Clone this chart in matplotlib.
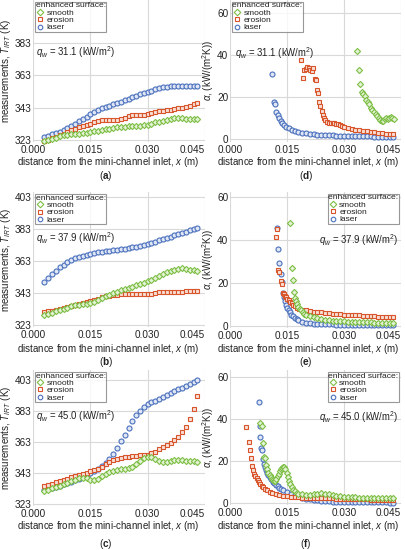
import matplotlib
matplotlib.use('Agg')
import matplotlib.pyplot as plt
from matplotlib.lines import Line2D

plt.rcParams['font.family'] = ['Liberation Sans', 'DejaVu Sans']
plt.rcParams['mathtext.fontset'] = 'custom'
plt.rcParams['mathtext.rm'] = 'Liberation Sans'
plt.rcParams['mathtext.it'] = 'Liberation Sans:italic'
plt.rcParams['mathtext.bf'] = 'Liberation Sans:bold'

# ---------------- data ----------------
SURFACES = ['smooth', 'erosion', 'laser']
X_TICKS = [0.000, 0.015, 0.030, 0.045]
X_TICK_LABELS = ['0.000', '0.015', '0.030', '0.045']
T_TICKS_A = [323, 343, 363, 383]
T_TICKS = [323, 343, 363, 383, 403]
A_TICKS = [0, 20, 40, 60]
Q_W = ['31.1', '37.9', '45.0']

X_T = [0.003, 0.004, 0.005, 0.006, 0.007, 0.008, 0.009, 0.010, 0.011, 0.012,
       0.013, 0.014, 0.015, 0.016, 0.017, 0.018, 0.019, 0.020, 0.021, 0.022,
       0.023, 0.024, 0.025, 0.026, 0.027, 0.028, 0.029, 0.030, 0.031, 0.032,
       0.033, 0.034, 0.035, 0.036, 0.037, 0.038, 0.039, 0.040, 0.041, 0.042, 0.043]

# (a) q = 31.1
T_A_SMOOTH = [322.5, 323, 323.7, 324.5, 325.2, 325.8, 326.2, 326.5, 326.8, 327,
              327.3, 327.6, 328, 328.4, 328.8, 329.2, 329.7, 330.1, 330.5, 330.8,
              331.1, 331.3, 331.5, 331.6, 331.7, 331.8, 332, 332.4, 333.2, 333.9,
              334.4, 334.8, 335.2, 335.7, 336.3, 336.8, 336.6, 336, 336.2, 336.1, 335.7]
T_A_EROSION = [322.5, 323.2, 324, 325, 326, 327, 328, 329, 330, 330.8,
               331.5, 332.3, 333, 334, 334.8, 335.4, 335.6, 335.6, 335.5, 335.6,
               335.8, 336.8, 337.8, 338.2, 338.2, 338.2, 338.5, 339, 339.6, 340.3,
               341, 341.2, 341.4, 341.8, 342.2, 342.5, 342.9, 343.5, 344.2, 345, 345.8]
T_A_LASER = [325, 325.7, 326.5, 327.2, 328, 329, 330.2, 331.6, 333.1, 334.6,
             336.1, 337.5, 338.9, 340.2, 341.4, 342.5, 343.4, 344.2, 345, 345.8,
             346.7, 347.6, 348.6, 349.6, 350.5, 351.4, 352.2, 352.9, 353.6, 354.3,
             354.9, 355.5, 355.9, 356.2, 356.4, 356.5, 356.5, 356.5, 356.4, 356.3, 356.2]

# (b) q = 37.9
T_B_SMOOTH = [329.5, 330, 330.7, 331.5, 332.3, 333.1, 333.9, 334.6, 335.2, 335.6,
              335.9, 336.2, 336.7, 337.6, 338.7, 339.9, 341, 342, 342.9, 343.8,
              344.6, 345.4, 346.2, 347, 347.8, 348.6, 349.4, 350.3, 351.4, 352.6,
              353.8, 355, 356, 356.9, 357.6, 358.2, 358.6, 358.3, 357.5, 357.1, 356.8]
T_B_EROSION = [331, 331.5, 332, 332.6, 333.2, 333.8, 334.4, 335, 335.6, 336.2,
               336.8, 337.4, 338, 338.7, 339.4, 340.2, 340.9, 341.4, 341.7, 341.9,
               342.1, 342.3, 342.4, 342.5, 342.5, 342.5, 342.5, 342.4, 342.6, 343.1,
               343.5, 343.6, 343.6, 343.6, 343.7, 343.8, 343.9, 344, 344.1, 344.2, 344.2]
T_B_LASER = [350, 352.5, 354.8, 357, 359, 360.8, 362.3, 363.6, 364.7, 365.6,
             366.4, 367, 367.6, 368, 368.4, 368.7, 369, 369.3, 369.6, 369.9,
             370.3, 370.7, 371.1, 371.5, 371.9, 372.3, 372.8, 373.4, 374.1, 374.9,
             375.8, 376.6, 377.4, 378.2, 379, 379.8, 380.6, 381.4, 382.3, 383.1, 383.9]

# (c) q = 45.0
T_C_SMOOTH = [331.5, 332.2, 333, 333.8, 334.7, 335.6, 336.6, 337.6, 338.6, 339.5,
              340, 339.6, 338.8, 338.6, 339.4, 340.8, 342.2, 343.4, 344.4, 345.1,
              345.5, 345.8, 346.2, 347.2, 348.8, 350.8, 352.6, 353.6, 353.3, 352,
              350.6, 350, 350.2, 350.8, 351.2, 351.3, 351.1, 350.9, 351, 350.7, 350.3]
T_C_EROSION = [334.5, 335.3, 336.1, 336.9, 337.7, 338.5, 339.3, 340.1, 340.9, 341.7,
               342.5, 343.3, 344.1, 344.9, 345.8, 347, 348.5, 350, 351.3, 352.3,
               352.9, 353.2, 353.5, 353.8, 354.1, 354.4, 354.6, 354.9, 355.6, 356.8,
               358.2, 359.6, 361, 362.5, 364.3, 366.5, 369.3, 373, 378, 384.5, 392.5]
T_C_LASER = [332, 332.7, 333.4, 334.1, 334.8, 335.6, 336.4, 337.3, 338.3, 339.3,
             340.4, 341.5, 342.7, 344, 345.5, 347.3, 349.5, 352.2, 355.4, 359.2,
             363.5, 367.8, 372, 376.4, 380.3, 383.3, 385.6, 387.3, 388.6, 389.8,
             391, 392.2, 393.4, 394.6, 395.8, 397, 398.2, 399.4, 400.6, 401.9, 403.2]

# (d) q = 31.1, heat transfer coefficient
D_SMOOTH_X = [0.0335, 0.0339, 0.0343, 0.0347, 0.0351, 0.0355, 0.0359, 0.0363, 0.0367, 0.0371,
              0.0375, 0.0379, 0.0383, 0.0387, 0.0391, 0.0395, 0.0399, 0.0403, 0.0407, 0.0411,
              0.0415, 0.0419, 0.0423, 0.0427, 0.0431]
D_SMOOTH_A = [42, 33, 26, 22.5, 21.5, 20.5, 18.5, 17.5, 16.5, 15,
              14, 13, 12, 11, 10, 9.2, 8.6, 8.8, 9.5, 9.8,
              9.6, 10, 10.4, 9.8, 9.6]
D_EROSION_X = [0.0188, 0.0191, 0.0195, 0.0199, 0.0203, 0.0207, 0.0211, 0.0215, 0.0219, 0.0223,
               0.0226, 0.0229, 0.0232, 0.0235, 0.0238, 0.0241, 0.0244, 0.0247, 0.025, 0.0255,
               0.026, 0.0265, 0.027, 0.0275, 0.028, 0.0285, 0.029, 0.0295, 0.030, 0.031,
               0.032, 0.033, 0.034, 0.035, 0.036, 0.037, 0.038, 0.039, 0.040, 0.041, 0.042, 0.043]
D_EROSION_A = [37.5, 29, 33, 33.5, 34.5, 34, 33, 32.5, 33.8, 28.5,
               28, 23.5, 22, 17.5, 15.5, 13.5, 11.5, 10, 9, 8.3,
               7.8, 7.5, 7.4, 7.4, 7.3, 7.0, 6.6, 6.2, 5.8, 5.2,
               4.8, 4.5, 4.2, 3.9, 3.6, 3.4, 3.2, 3.0, 2.8, 2.6, 2.4, 2.2]
D_LASER_X = [0.0111, 0.0115, 0.0118, 0.0122, 0.0126, 0.0130, 0.0134, 0.0138, 0.0143, 0.0148,
             0.0155, 0.0162, 0.017, 0.018, 0.019, 0.020, 0.021, 0.022, 0.023, 0.024,
             0.025, 0.026, 0.027, 0.028, 0.029, 0.030, 0.031, 0.032, 0.033, 0.034,
             0.035, 0.036, 0.037, 0.038, 0.039, 0.040, 0.041, 0.042, 0.043]
D_LASER_A = [31, 17.5, 16.5, 13, 11.5, 10, 8.5, 7.5, 6.6, 5.8,
             5, 4.4, 3.9, 3.4, 3.0, 2.7, 2.5, 2.3, 2.1, 2.0,
             1.9, 1.8, 1.7, 1.6, 1.55, 1.5, 1.45, 1.4, 1.35, 1.3,
             1.25, 1.2, 1.2, 1.15, 1.1, 1.1, 1.05, 1.0, 1.0]

# (e) q = 37.9
E_SMOOTH_X = [0.0158, 0.0162, 0.0165, 0.0168, 0.0171, 0.0174, 0.0177, 0.018, 0.0184, 0.0188,
              0.0192, 0.0196, 0.020, 0.021, 0.022, 0.023, 0.024, 0.025, 0.026, 0.027,
              0.028, 0.029, 0.030, 0.031, 0.032, 0.033, 0.034, 0.035, 0.036, 0.037,
              0.038, 0.039, 0.040, 0.041, 0.042, 0.043]
E_SMOOTH_A = [48, 27, 21.5, 16, 13.2, 11.5, 10, 9, 8.1, 7.3,
              6.5, 5.8, 5.3, 4.6, 4.0, 3.5, 3.1, 2.8, 2.6, 2.4,
              2.3, 2.2, 2.1, 2.0, 1.9, 1.85, 1.8, 1.75, 1.7, 1.65,
              1.6, 1.55, 1.5, 1.5, 1.45, 1.4]
E_EROSION_X = [0.0122, 0.0124, 0.0127, 0.0130, 0.0133, 0.0136, 0.0139, 0.0142, 0.0145, 0.0148,
               0.0151, 0.0155, 0.0159, 0.0163, 0.0167, 0.0172, 0.0177, 0.0182, 0.019, 0.020,
               0.021, 0.022, 0.023, 0.024, 0.025, 0.026, 0.027, 0.028, 0.029, 0.030,
               0.031, 0.032, 0.033, 0.034, 0.035, 0.036, 0.037, 0.038, 0.039, 0.040,
               0.041, 0.042, 0.043]
E_EROSION_A = [41.5, 45, 26, 25, 21, 19.5, 15.5, 15, 14, 13.5,
               12.7, 12, 11.2, 10.5, 9.9, 9.2, 8.6, 8.1, 7.6, 7.3,
               7.0, 6.7, 6.5, 6.3, 6.1, 5.9, 5.7, 5.5, 5.4, 5.3,
               5.2, 5.1, 5.0, 4.9, 4.8, 4.7, 4.6, 4.5, 4.4, 4.4,
               4.3, 4.3, 4.2]
E_LASER_X = [0.0124, 0.0127, 0.0130, 0.0133, 0.0136, 0.0139, 0.0142, 0.0145, 0.0148, 0.0151,
             0.0154, 0.0157, 0.0161, 0.0165, 0.0170, 0.0175, 0.018, 0.019, 0.020, 0.021,
             0.022, 0.023, 0.024, 0.025, 0.026, 0.027, 0.028, 0.029, 0.030, 0.031,
             0.032, 0.033, 0.034, 0.035, 0.036, 0.037, 0.038, 0.039, 0.040, 0.041,
             0.042, 0.043]
E_LASER_A = [45.5, 36, 29.5, 24, 20.5, 15.5, 13.5, 11.5, 9.8, 8.4,
             7.3, 6.3, 5.3, 4.5, 3.7, 3.1, 2.6, 2.0, 1.6, 1.3,
             1.1, 1.0, 0.9, 0.8, 0.75, 0.7, 0.65, 0.6, 0.6, 0.55,
             0.5, 0.5, 0.45, 0.45, 0.4, 0.4, 0.4, 0.35, 0.35, 0.3,
             0.3, 0.3]

# (f) q = 45.0
F_SMOOTH_X = [0.0080, 0.0083, 0.0086, 0.0089, 0.0092, 0.0095, 0.0098, 0.0101, 0.0104, 0.0107,
              0.011, 0.0113, 0.0116, 0.0119, 0.0122, 0.0125, 0.0128, 0.0131, 0.0134, 0.0137,
              0.014, 0.0143, 0.0146, 0.0149, 0.0152, 0.0155, 0.0158, 0.0162, 0.0166, 0.017,
              0.0175, 0.018, 0.019, 0.020, 0.021, 0.022, 0.023, 0.024, 0.025, 0.026,
              0.027, 0.028, 0.029, 0.030, 0.031, 0.032, 0.033, 0.034, 0.035, 0.036,
              0.037, 0.038, 0.039, 0.040, 0.041, 0.042, 0.043]
F_SMOOTH_A = [38, 36.5, 28.5, 22, 21.5, 18, 16, 14.5, 13.5, 12.5,
              11.5, 10.8, 10.3, 10.5, 11.5, 12.8, 14, 15, 16, 16.8,
              17.2, 17, 16.2, 14.5, 12.5, 10.5, 9, 7.5, 6.3, 5.5,
              4.8, 4.4, 4.2, 4.0, 4.0, 4.1, 4.4, 4.6, 4.5, 4.1,
              3.7, 3.4, 3.2, 3.0, 2.9, 2.8, 2.7, 2.6, 2.6, 2.5,
              2.5, 2.4, 2.4, 2.4, 2.3, 2.3, 2.3]
F_EROSION_X = [0.0042, 0.0049, 0.0052, 0.0055, 0.0058, 0.0061, 0.0064, 0.0067, 0.0070, 0.0073,
               0.0076, 0.0080, 0.0084, 0.0088, 0.0093, 0.0098, 0.0104, 0.011, 0.012, 0.013,
               0.014, 0.015, 0.016, 0.017, 0.018, 0.019, 0.020, 0.021, 0.022, 0.023,
               0.024, 0.025, 0.026, 0.027, 0.028, 0.029, 0.030, 0.031, 0.032, 0.033,
               0.034, 0.035, 0.036, 0.037, 0.038, 0.039, 0.040, 0.041, 0.042, 0.043]
F_EROSION_A = [36, 29, 25, 21.5, 17.5, 15.5, 14, 12.8, 11.8, 10.8,
               9.9, 9, 8.2, 7.4, 6.6, 6, 5.4, 4.9, 4.3, 3.8,
               3.4, 3.1, 2.9, 2.8, 2.7, 2.6, 2.5, 2.45, 2.4, 2.35,
               2.3, 2.25, 2.2, 2.15, 2.1, 2.05, 2.0, 1.95, 1.9, 1.85,
               1.8, 1.75, 1.7, 1.65, 1.6, 1.55, 1.5, 1.45, 1.4, 1.35]
F_LASER_X = [0.0075, 0.0078, 0.0080, 0.0082, 0.0085, 0.0087, 0.0089, 0.0092, 0.0095, 0.0098,
             0.0101, 0.0104, 0.0108, 0.0112, 0.0116, 0.0120, 0.0125, 0.013, 0.0135, 0.014,
             0.015, 0.016, 0.017, 0.018, 0.019, 0.020, 0.021, 0.022, 0.023, 0.024,
             0.025, 0.026, 0.027, 0.028, 0.029, 0.030, 0.031, 0.032, 0.033, 0.034,
             0.035, 0.036, 0.037, 0.038, 0.039, 0.040, 0.041, 0.042, 0.043]
F_LASER_A = [48, 36.5, 31.5, 26, 25, 21, 18.5, 17, 15.5, 14.5,
             13.2, 12.2, 11.2, 10.2, 9.4, 8.6, 7.9, 7.2, 6.6, 6.1,
             5.2, 4.5, 3.8, 3.2, 2.6, 2.1, 1.7, 1.4, 1.2, 1.0,
             0.9, 0.8, 0.7, 0.65, 0.6, 0.55, 0.5, 0.45, 0.4, 0.4,
             0.35, 0.35, 0.3, 0.3, 0.3, 0.25, 0.25, 0.2, 0.2]

# ---------------- style ----------------
COLORS = {'smooth': '#7dbf45', 'erosion': '#d8552c', 'laser': '#4a70bd'}
FILLS = {'smooth': '#e4f2d6', 'erosion': '#f8e0d6', 'laser': '#dfe6f4'}
MARKERS = {'smooth': 'D', 'erosion': 's', 'laser': 'o'}
MSIZE = {'smooth': 3.1, 'erosion': 3.2, 'laser': 3.6}
TXT = '#222222'
GRID = '#d9d9d9'

W, H = 405, 550
fig = plt.figure(figsize=(W / 100, H / 100), dpi=100)


def rect(l, r, t, b):
    return [l / W, 1 - b / H, (r - l) / W, (b - t) / H]


def ftext(x, y, s, **kw):
    fig.text(x / W, 1 - y / H, s, color=TXT, **kw)


def style_axes(ax, ylim, yticks):
    ax.set_xlim(0, 0.045)
    ax.set_ylim(*ylim)
    ax.set_xticks(X_TICKS)
    ax.set_xticklabels(X_TICK_LABELS)
    ax.get_xticklabels()[-1].set_horizontalalignment('right')
    ax.set_yticks(yticks)
    for s in ax.spines.values():
        s.set_visible(False)
    ax.grid(True, color=GRID, lw=0.8)
    ax.set_axisbelow(True)
    ax.tick_params(length=0, labelsize=7.2, colors=TXT)
    ax.tick_params(axis='x', pad=2.5)
    ax.tick_params(axis='y', pad=1.2)


def draw(ax, series):
    for name in ['laser', 'erosion', 'smooth']:
        x, y = series[name]
        ax.plot(x, y, ls='none', marker=MARKERS[name], ms=MSIZE[name],
                mfc=FILLS[name], mec=COLORS[name], mew=0.8, clip_on=False)


def legend(ax, loc):
    handles = [Line2D([], [], ls='none', marker=MARKERS[n], ms=3.3, mfc='white',
                      mec=COLORS[n], mew=0.8, label=n) for n in SURFACES]
    lg = ax.legend(handles=handles, loc=loc, title='enhanced surface:',
                   fontsize=6.0, title_fontsize=6.1, frameon=True, fancybox=False,
                   edgecolor='#7f7f7f', borderpad=0.1, labelspacing=0.0,
                   handletextpad=0.3, handlelength=1.0, handleheight=0.5,
                   borderaxespad=0.2, alignment='left')
    lg.get_frame().set_linewidth(0.8)
    for t in lg.get_texts():
        t.set_color(TXT)
    lg.get_title().set_color(TXT)


T_YLABEL = r'measurements, $T_{IRT}$ (K)'
A_YLABEL = r'$\alpha$, (kW/(m$^2$K))'
XLABEL = r'distance from the mini-channel inlet, $x$ (m)'

panels = [
    # left column: temperatures
    dict(r=rect(33, 205, 0, 142), ylim=(321.76, 409.6), yt=T_TICKS_A,
         s={'smooth': (X_T, T_A_SMOOTH), 'erosion': (X_T, T_A_EROSION), 'laser': (X_T, T_A_LASER)},
         yl=T_YLABEL, leg='upper left', q=(36, 52, 'left', Q_W[0])),
    dict(r=rect(33, 205, 192, 327), ylim=(321.75, 406.1), yt=T_TICKS,
         s={'smooth': (X_T, T_B_SMOOTH), 'erosion': (X_T, T_B_EROSION), 'laser': (X_T, T_B_LASER)},
         yl=T_YLABEL, leg='upper left', q=(36, 238, 'left', Q_W[1])),
    dict(r=rect(33, 205, 370, 506), ylim=(321.7, 409.5), yt=T_TICKS,
         s={'smooth': (X_T, T_C_SMOOTH), 'erosion': (X_T, T_C_EROSION), 'laser': (X_T, T_C_LASER)},
         yl=T_YLABEL, leg='upper left', q=(36, 416, 'left', Q_W[2])),
    # right column: heat transfer coefficient
    dict(r=rect(230, 401, 0, 142), ylim=(-1.43, 66.2), yt=A_TICKS,
         s={'smooth': (D_SMOOTH_X, D_SMOOTH_A), 'erosion': (D_EROSION_X, D_EROSION_A),
            'laser': (D_LASER_X, D_LASER_A)},
         yl=A_YLABEL, leg='upper left', q=(235, 53, 'left', Q_W[0])),
    dict(r=rect(230, 401, 192, 328), ylim=(-0.93, 62.3), yt=A_TICKS,
         s={'smooth': (E_SMOOTH_X, E_SMOOTH_A), 'erosion': (E_EROSION_X, E_EROSION_A),
            'laser': (E_LASER_X, E_LASER_A)},
         yl=A_YLABEL, leg='upper right', q=(398, 240, 'right', Q_W[1])),
    dict(r=rect(230, 401, 370, 505), ylim=(-0.95, 63.3), yt=A_TICKS,
         s={'smooth': (F_SMOOTH_X, F_SMOOTH_A), 'erosion': (F_EROSION_X, F_EROSION_A),
            'laser': (F_LASER_X, F_LASER_A)},
         yl=A_YLABEL, leg='upper right', q=(398, 417, 'right', Q_W[2])),
]

for i, p in enumerate(panels):
    ax = fig.add_axes(p['r'])
    style_axes(ax, p['ylim'], p['yt'])
    draw(ax, p['s'])
    legend(ax, p['leg'])
    ax.set_ylabel(p['yl'], fontsize=7.0, color=TXT)
    col_left = 33 if i < 3 else 230
    col_w = 172 if i < 3 else 171
    xc = 13 if i < 3 else 216
    ax.yaxis.set_label_coords((xc - col_left) / col_w, 0.5)
    qx, qy, ha, qv = p['q']
    ftext(qx, qy, r'$q_w$ = ' + qv + r' (kW/m$^2$)', fontsize=6.9, ha=ha, va='center')

ROW_XLABEL_Y = [162, 349, 526]
ROW_LETTER_Y = [176, 362, 544]
LETTERS = [['a', 'd'], ['b', 'e'], ['c', 'f']]
for r in range(3):
    for c, xc in enumerate([108, 308]):
        ftext(xc, ROW_XLABEL_Y[r], XLABEL, fontsize=7.0, ha='center', va='center')
        ftext(xc - 2, ROW_LETTER_Y[r], '(' + r'$\mathbf{' + LETTERS[r][c] + '}$' + ')',
              fontsize=7.2, ha='center', va='center')

fig.savefig('out.png', dpi=100)
